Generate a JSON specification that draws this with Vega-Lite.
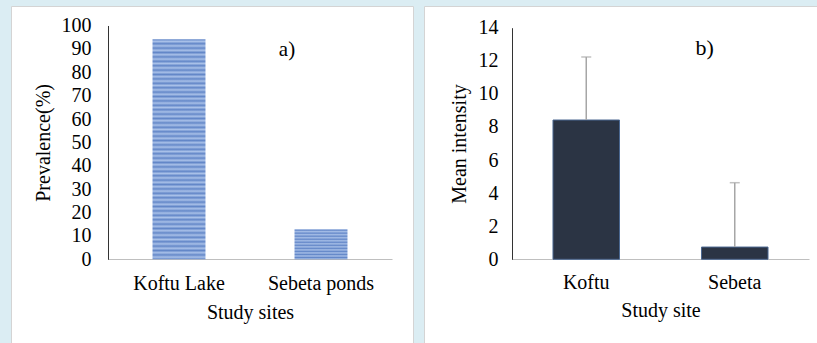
{
  "$schema": "https://vega.github.io/schema/vega-lite/v6.json",
  "background": "#dbedf3",
  "padding": {"left": 10, "top": 5, "right": 0, "bottom": 0},
  "spacing": 11,
  "bounds": "flush",
  "config": {
    "font": "Liberation Serif",
    "view": {"fill": "white", "stroke": "#d4d4d4", "strokeWidth": 1},
    "axis": {
      "labelFont": "Liberation Serif",
      "titleFont": "Liberation Serif",
      "labelColor": "#000000",
      "titleColor": "#000000",
      "labelFontSize": 20,
      "titleFontSize": 20,
      "titleFontWeight": "normal",
      "labelOverlap": false,
      "grid": false,
      "ticks": false
    }
  },
  "hconcat": [
    {
      "width": 402,
      "height": 338,
      "layer": [
        {
          "data": {"values": [
            {"site": "Koftu Lake", "prevalence": 94.1},
            {"site": "Sebeta ponds", "prevalence": 12.8}
          ]},
          "mark": {"type": "bar", "color": {"gradient": "linear", "x1": 0, "y1": 0, "x2": 0, "y2": 1, "stops": [
            {"offset": 0, "color": "#6387c8"}, {"offset": 0.01, "color": "#a8c0e8"},
            {"offset": 0.02, "color": "#6387c8"}, {"offset": 0.03, "color": "#a8c0e8"},
            {"offset": 0.04, "color": "#6387c8"}, {"offset": 0.05, "color": "#a8c0e8"},
            {"offset": 0.06, "color": "#6387c8"}, {"offset": 0.07, "color": "#a8c0e8"},
            {"offset": 0.08, "color": "#6387c8"}, {"offset": 0.09, "color": "#a8c0e8"},
            {"offset": 0.10, "color": "#6387c8"}, {"offset": 0.11, "color": "#a8c0e8"},
            {"offset": 0.12, "color": "#6387c8"}, {"offset": 0.13, "color": "#a8c0e8"},
            {"offset": 0.14, "color": "#6387c8"}, {"offset": 0.15, "color": "#a8c0e8"},
            {"offset": 0.16, "color": "#6387c8"}, {"offset": 0.17, "color": "#a8c0e8"},
            {"offset": 0.18, "color": "#6387c8"}, {"offset": 0.19, "color": "#a8c0e8"},
            {"offset": 0.20, "color": "#6387c8"}, {"offset": 0.21, "color": "#a8c0e8"},
            {"offset": 0.22, "color": "#6387c8"}, {"offset": 0.23, "color": "#a8c0e8"},
            {"offset": 0.24, "color": "#6387c8"}, {"offset": 0.25, "color": "#a8c0e8"},
            {"offset": 0.26, "color": "#6387c8"}, {"offset": 0.27, "color": "#a8c0e8"},
            {"offset": 0.28, "color": "#6387c8"}, {"offset": 0.29, "color": "#a8c0e8"},
            {"offset": 0.30, "color": "#6387c8"}, {"offset": 0.31, "color": "#a8c0e8"},
            {"offset": 0.32, "color": "#6387c8"}, {"offset": 0.33, "color": "#a8c0e8"},
            {"offset": 0.34, "color": "#6387c8"}, {"offset": 0.35, "color": "#a8c0e8"},
            {"offset": 0.36, "color": "#6387c8"}, {"offset": 0.37, "color": "#a8c0e8"},
            {"offset": 0.38, "color": "#6387c8"}, {"offset": 0.39, "color": "#a8c0e8"},
            {"offset": 0.40, "color": "#6387c8"}, {"offset": 0.41, "color": "#a8c0e8"},
            {"offset": 0.42, "color": "#6387c8"}, {"offset": 0.43, "color": "#a8c0e8"},
            {"offset": 0.44, "color": "#6387c8"}, {"offset": 0.45, "color": "#a8c0e8"},
            {"offset": 0.46, "color": "#6387c8"}, {"offset": 0.47, "color": "#a8c0e8"},
            {"offset": 0.48, "color": "#6387c8"}, {"offset": 0.49, "color": "#a8c0e8"},
            {"offset": 0.50, "color": "#6387c8"}, {"offset": 0.51, "color": "#a8c0e8"},
            {"offset": 0.52, "color": "#6387c8"}, {"offset": 0.53, "color": "#a8c0e8"},
            {"offset": 0.54, "color": "#6387c8"}, {"offset": 0.55, "color": "#a8c0e8"},
            {"offset": 0.56, "color": "#6387c8"}, {"offset": 0.57, "color": "#a8c0e8"},
            {"offset": 0.58, "color": "#6387c8"}, {"offset": 0.59, "color": "#a8c0e8"},
            {"offset": 0.60, "color": "#6387c8"}, {"offset": 0.61, "color": "#a8c0e8"},
            {"offset": 0.62, "color": "#6387c8"}, {"offset": 0.63, "color": "#a8c0e8"},
            {"offset": 0.64, "color": "#6387c8"}, {"offset": 0.65, "color": "#a8c0e8"},
            {"offset": 0.66, "color": "#6387c8"}, {"offset": 0.67, "color": "#a8c0e8"},
            {"offset": 0.68, "color": "#6387c8"}, {"offset": 0.69, "color": "#a8c0e8"},
            {"offset": 0.70, "color": "#6387c8"}, {"offset": 0.71, "color": "#a8c0e8"},
            {"offset": 0.72, "color": "#6387c8"}, {"offset": 0.73, "color": "#a8c0e8"},
            {"offset": 0.74, "color": "#6387c8"}, {"offset": 0.75, "color": "#a8c0e8"},
            {"offset": 0.76, "color": "#6387c8"}, {"offset": 0.77, "color": "#a8c0e8"},
            {"offset": 0.78, "color": "#6387c8"}, {"offset": 0.79, "color": "#a8c0e8"},
            {"offset": 0.80, "color": "#6387c8"}, {"offset": 0.81, "color": "#a8c0e8"},
            {"offset": 0.82, "color": "#6387c8"}, {"offset": 0.83, "color": "#a8c0e8"},
            {"offset": 0.84, "color": "#6387c8"}, {"offset": 0.85, "color": "#a8c0e8"},
            {"offset": 0.86, "color": "#6387c8"}, {"offset": 0.87, "color": "#a8c0e8"},
            {"offset": 0.88, "color": "#6387c8"}, {"offset": 0.89, "color": "#a8c0e8"},
            {"offset": 0.90, "color": "#6387c8"}, {"offset": 0.91, "color": "#a8c0e8"},
            {"offset": 0.92, "color": "#6387c8"}, {"offset": 0.93, "color": "#a8c0e8"},
            {"offset": 0.94, "color": "#6387c8"}, {"offset": 0.95, "color": "#a8c0e8"},
            {"offset": 0.96, "color": "#6387c8"}, {"offset": 0.97, "color": "#a8c0e8"},
            {"offset": 0.98, "color": "#6387c8"}, {"offset": 0.99, "color": "#a8c0e8"},
            {"offset": 1, "color": "#6387c8"}
          ]}},
          "encoding": {
            "x": {
              "field": "site", "type": "nominal", "sort": null,
              "scale": {"range": [97, 381], "paddingInner": 0.627, "paddingOuter": 0.3135},
              "axis": {"title": "Study sites", "labelAngle": 0, "offset": -85, "domainColor": "#bfbfbf", "labelPadding": 14, "titlePadding": 9}
            },
            "y": {
              "field": "prevalence", "type": "quantitative",
              "scale": {"domain": [0, 100], "range": [253.3, 19.5], "nice": false},
              "axis": {"title": "Prevalence(%)", "values": [0, 10, 20, 30, 40, 50, 60, 70, 80, 90, 100], "tickCount": 11, "labelOverlap": false, "offset": -97, "domainColor": "#333333", "labelPadding": 17, "titlePadding": 8}
            }
          }
        },
        {
          "data": {"values": [{"label": "a)"}]},
          "mark": {"type": "text", "fontSize": 21, "dx": -34, "baseline": "middle", "align": "center", "font": "Liberation Serif", "color": "#000000"},
          "encoding": {
            "x": {"datum": "Sebeta ponds", "axis": {"title": "Study sites", "labelAngle": 0, "offset": -85, "domainColor": "#bfbfbf", "labelPadding": 14, "titlePadding": 9}},
            "y": {"datum": 89.6, "axis": {"title": "Prevalence(%)", "values": [0, 10, 20, 30, 40, 50, 60, 70, 80, 90, 100], "tickCount": 11, "labelOverlap": false, "offset": -97, "domainColor": "#333333", "labelPadding": 17, "titlePadding": 8}},
            "text": {"field": "label"}
          }
        }
      ]
    },
    {
      "width": 394,
      "height": 338,
      "data": {"values": [
        {"site": "Koftu", "mean": 8.42, "upper": 12.23},
        {"site": "Sebeta", "mean": 0.74, "upper": 4.63}
      ]},
      "layer": [
        {
          "mark": {"type": "bar", "color": "#2b3444", "stroke": "#4a6790", "strokeWidth": 1},
          "encoding": {
            "x": {
              "field": "site", "type": "nominal", "sort": null,
              "scale": {"range": [88, 385], "paddingInner": 0.552, "paddingOuter": 0.276},
              "axis": {"title": "Study site", "labelAngle": 0, "offset": -85, "domainColor": "#bfbfbf", "labelPadding": 13, "titlePadding": 8}
            },
            "y": {
              "field": "mean", "type": "quantitative",
              "scale": {"domain": [0, 14], "range": [253.3, 21.7], "nice": false},
              "axis": {"title": "Mean intensity", "values": [0, 2, 4, 6, 8, 10, 12, 14], "tickCount": 8, "labelOverlap": false, "offset": -88, "domainColor": "#333333", "labelPadding": 14, "titlePadding": 9}
            }
          }
        },
        {
          "mark": {"type": "rule", "color": "#a6a6a6", "strokeWidth": 1.5},
          "encoding": {
            "x": {"field": "site", "type": "nominal", "sort": null},
            "y": {"field": "mean", "type": "quantitative"},
            "y2": {"field": "upper"}
          }
        },
        {
          "mark": {"type": "tick", "color": "#a6a6a6", "size": 10, "thickness": 1.5},
          "encoding": {
            "x": {"field": "site", "type": "nominal", "sort": null},
            "y": {"field": "upper", "type": "quantitative"}
          }
        },
        {
          "data": {"values": [{"label": "b)"}]},
          "mark": {"type": "text", "fontSize": 22, "dx": -30, "baseline": "middle", "align": "center", "font": "Liberation Serif", "color": "#000000"},
          "encoding": {
            "x": {"datum": "Sebeta"},
            "y": {"datum": 12.76},
            "text": {"field": "label"}
          }
        }
      ]
    }
  ]
}
